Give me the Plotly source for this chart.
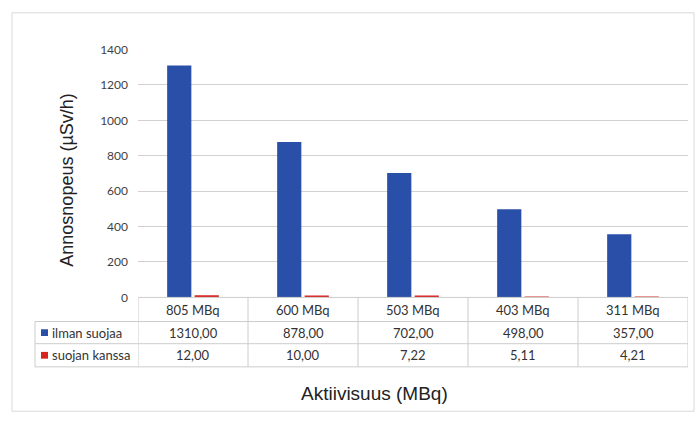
import plotly.graph_objects as go

# Data
categories = ["805 MBq", "600 MBq", "503 MBq", "403 MBq", "311 MBq"]
ilman_suojaa = [1310.00, 878.00, 702.00, 498.00, 357.00]
suojan_kanssa = [12.00, 10.00, 7.22, 5.11, 4.21]
series_names = ["ilman suojaa", "suojan kanssa"]
y_ticks = [0, 200, 400, 600, 800, 1000, 1200, 1400]

W, H = 699, 425
BLUE = "#2A4FA8"
RED = "#D8231E"
GRID = "#D3D0CD"
BORDER = "#CCCCCC"
TXT = "#333333"


def px(x):
    return x / W


def py(y):
    return 1 - y / H


fig = go.Figure()
fig.add_trace(go.Bar(x=categories, y=ilman_suojaa, name=series_names[0],
                     marker=dict(color=BLUE, line=dict(width=0))))
fig.add_trace(go.Bar(x=categories, y=suojan_kanssa, name=series_names[1],
                     marker=dict(color=RED, line=dict(width=0))))

# plot area (pixel frame)
PL, PR, PT, PB = 138, 688, 43, 300
# data table rows
R1, R2, R3 = 325, 348, 372
LEG_L = 35

shapes = []
# outer chart frame
shapes.append(dict(type="rect", xref="paper", yref="paper",
                   x0=px(12), x1=px(694), y0=py(418), y1=py(5),
                   line=dict(color="#D9D9D9", width=1)))
# table horizontal rules
shapes.append(dict(type="line", xref="paper", yref="paper",
                   x0=px(PL), x1=px(PR), y0=py(PB), y1=py(PB),
                   line=dict(color=BORDER, width=1)))
for yy in (R1, R2, R3):
    shapes.append(dict(type="line", xref="paper", yref="paper",
                       x0=px(LEG_L), x1=px(PR), y0=py(yy), y1=py(yy),
                       line=dict(color=BORDER, width=1)))
# table vertical rules
shapes.append(dict(type="line", xref="paper", yref="paper",
                   x0=px(LEG_L), x1=px(LEG_L), y0=py(R1), y1=py(R3),
                   line=dict(color=BORDER, width=1)))
for i in range(len(categories) + 1):
    shapes.append(dict(type="line", xref="x", yref="paper",
                       x0=i - 0.5, x1=i - 0.5, y0=py(PB), y1=py(R3),
                       line=dict(color=BORDER, width=1)))
# legend keys
for color, yc in ((BLUE, (R1 + R2) / 2), (RED, (R2 + R3) / 2)):
    shapes.append(dict(type="rect", xref="paper", yref="paper",
                       x0=px(41), x1=px(48), y0=py(yc + 3.5), y1=py(yc - 3.5),
                       fillcolor=color, line=dict(width=0)))

annotations = []
tfont = dict(family="Lato, Calibri, sans-serif", size=13, color=TXT)


def fmt(v):
    return f"{v:.2f}".replace(".", ",")


for cat, a, b in zip(categories, ilman_suojaa, suojan_kanssa):
    annotations.append(dict(x=cat, xref="x", y=py((PB + R1) / 2 + 1), yref="paper",
                            text=cat, showarrow=False, font=tfont,
                            xanchor="center", yanchor="middle"))
    annotations.append(dict(x=cat, xref="x", y=py((R1 + R2) / 2), yref="paper",
                            text=fmt(a), showarrow=False, font=tfont,
                            xanchor="center", yanchor="middle"))
    annotations.append(dict(x=cat, xref="x", y=py((R2 + R3) / 2), yref="paper",
                            text=fmt(b), showarrow=False, font=tfont,
                            xanchor="center", yanchor="middle"))

for name, yc in zip(series_names, ((R1 + R2) / 2, (R2 + R3) / 2)):
    annotations.append(dict(x=px(50), xref="paper", y=py(yc), yref="paper",
                            text=name, showarrow=False, font=tfont,
                            xanchor="left", yanchor="middle"))

# axis titles
annotations.append(dict(x=px(67), xref="paper", y=py(179), yref="paper",
                        text="Annosnopeus (µSv/h)", textangle=-90, showarrow=False,
                        font=dict(family="Liberation Sans, Arial, sans-serif", size=18,
                                  color="#222222"),
                        xanchor="center", yanchor="middle"))
annotations.append(dict(x=px(374), xref="paper", y=py(400), yref="paper",
                        text="Aktiivisuus (MBq)", showarrow=False,
                        font=dict(family="Liberation Sans, Arial, sans-serif", size=19,
                                  color="#222222"),
                        xanchor="center", yanchor="middle"))

fig.update_layout(
    width=W, height=H,
    margin=dict(l=0, r=0, t=0, b=0),
    paper_bgcolor="white", plot_bgcolor="white",
    showlegend=False,
    barmode="group", bargap=0.5, bargroupgap=0.12,
    xaxis=dict(domain=[px(PL), px(PR)], range=[-0.5, len(categories) - 0.5],
               showticklabels=False, showgrid=False, zeroline=False, ticks="",
               fixedrange=True),
    yaxis=dict(domain=[py(PB), py(PT)], range=[0, 1400], tickvals=y_ticks,
               showgrid=True, gridcolor=GRID, gridwidth=1, zeroline=False,
               ticks="", ticklabelstandoff=9,
               tickfont=dict(family="Lato, Calibri, sans-serif", size=12, color="#3F3F3F"),
               fixedrange=True),
    shapes=shapes,
    annotations=annotations,
)

fig.write_html("out.html")
